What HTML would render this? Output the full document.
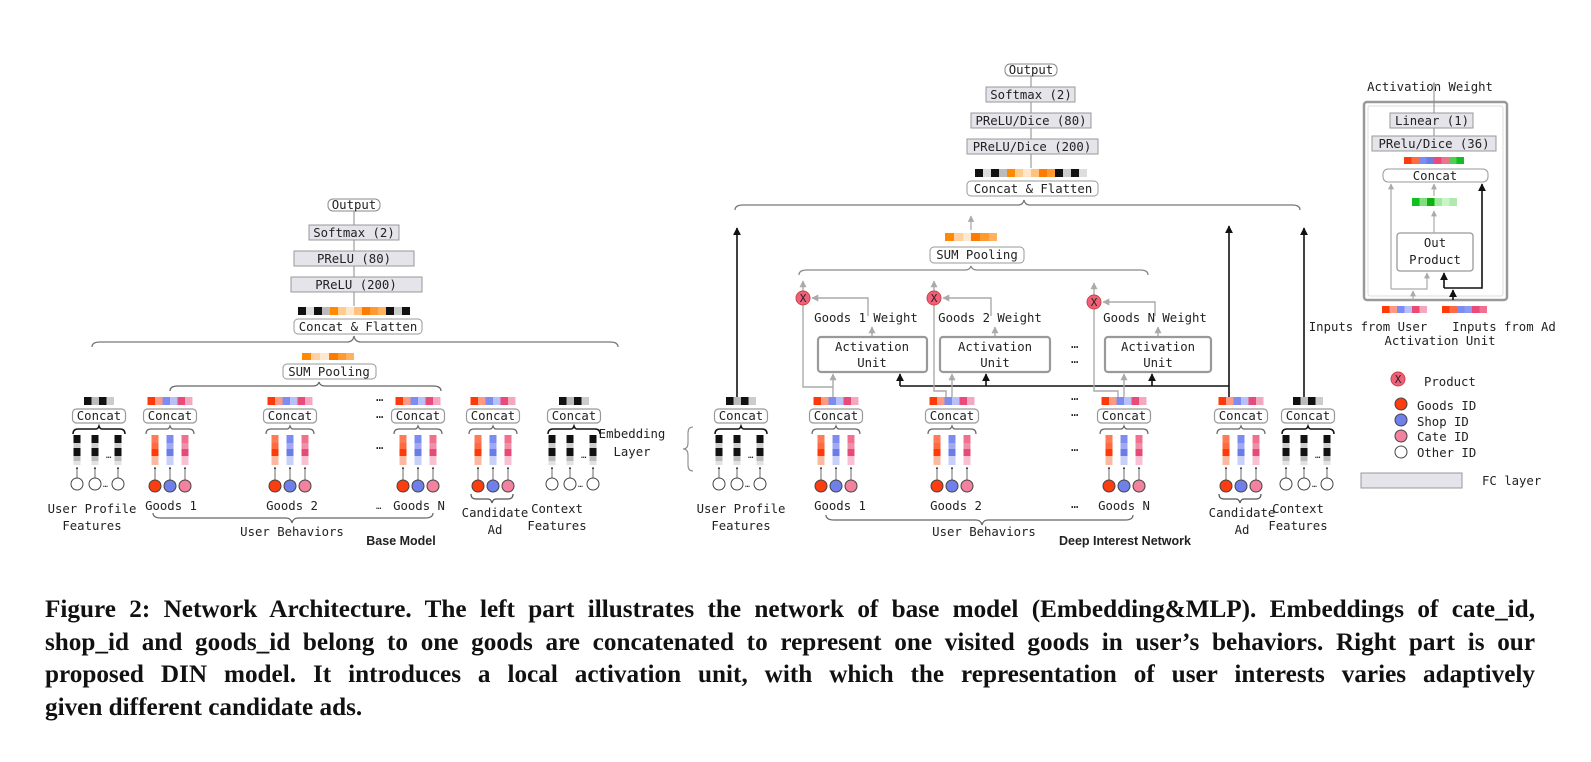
<!DOCTYPE html>
<html><head><meta charset="utf-8"><style>
html,body{margin:0;padding:0;background:#fff;width:1591px;height:762px;overflow:hidden}
svg{position:absolute;left:0;top:0}
svg text{font-family:"DejaVu Sans Mono","Liberation Mono",monospace;font-size:12.3px;fill:#222}
.cap{position:absolute;left:45px;width:1490px;font-family:"Liberation Serif",serif;font-weight:bold;font-size:25.2px;line-height:32.5px;color:#111;white-space:nowrap;text-align:justify;text-align-last:justify}
</style></head><body>
<svg width="1591" height="762" viewBox="0 0 1591 762">
<defs>
<marker id="ag" viewBox="0 0 10 10" refX="9" refY="5" markerWidth="5" markerHeight="5" orient="auto"><path d="M0,0L10,5L0,10z" fill="#aaa"/></marker>
<marker id="ak" viewBox="0 0 10 10" refX="9" refY="5" markerWidth="5" markerHeight="5" orient="auto"><path d="M0,0L10,5L0,10z" fill="#111"/></marker>
<marker id="as" viewBox="0 0 10 10" refX="9" refY="5" markerWidth="3" markerHeight="3" orient="auto"><path d="M0,0L10,5L0,10z" fill="#222"/></marker>
<g id="gstrip">
<rect x="-22.5" y="397" width="7.5" height="8" fill="#ff3a0a"/><rect x="-15" y="397" width="7.5" height="8" fill="#ff9a80"/><rect x="-7.5" y="397" width="7.5" height="8" fill="#7c8cf0"/><rect x="0" y="397" width="7.5" height="8" fill="#b8c0f8"/><rect x="7.5" y="397" width="7.5" height="8" fill="#ea4a78"/><rect x="15" y="397" width="7.5" height="8" fill="#f4a8c0"/>
</g>
<g id="gcol">
<rect x="-3.5" y="435" width="7" height="8" fill="#ff7a55"/><rect x="-3.5" y="443" width="7" height="6" fill="#ff6a40"/><rect x="-3.5" y="449" width="7" height="7" fill="#ff3a0a"/><rect x="-3.5" y="456" width="7" height="9" fill="#ffb8a0"/>
</g>
<g id="bcol">
<rect x="-3.5" y="435" width="7" height="8" fill="#7c8cf0"/><rect x="-3.5" y="443" width="7" height="6" fill="#a0aaf4"/><rect x="-3.5" y="449" width="7" height="7" fill="#6a7ce8"/><rect x="-3.5" y="456" width="7" height="9" fill="#c8cff8"/>
</g>
<g id="pcol">
<rect x="-3.5" y="435" width="7" height="8" fill="#f07090"/><rect x="-3.5" y="443" width="7" height="6" fill="#f090a8"/><rect x="-3.5" y="449" width="7" height="7" fill="#e84a78"/><rect x="-3.5" y="456" width="7" height="9" fill="#f8c0d0"/>
</g>
<g id="kcol">
<rect x="-3.5" y="435" width="7" height="8" fill="#111"/><rect x="-3.5" y="443" width="7" height="5" fill="#ccc"/><rect x="-3.5" y="448" width="7" height="8" fill="#111"/><rect x="-3.5" y="456" width="7" height="5" fill="#bbb"/><rect x="-3.5" y="461" width="7" height="4" fill="#e2e2e2"/>
</g>
<g id="goods">
<use href="#gstrip"/>
<rect x="-26.5" y="409" width="53" height="14" rx="4" fill="#fff" stroke="#999" stroke-width="1.2"/>
<path d="M-24,434 q0,-5 5,-5 h16 q2,0 3,-3 q1,3 3,3 h16 q5,0 5,5" fill="none" stroke="#666" stroke-width="1.2"/>
<use href="#gcol" x="-15"/><use href="#bcol" x="0"/><use href="#pcol" x="15"/>
<g stroke="#444" stroke-width="0.8" marker-end="url(#as)"><line x1="-15" y1="480" x2="-15" y2="467"/><line x1="0" y1="480" x2="0" y2="467"/><line x1="15" y1="480" x2="15" y2="467"/></g>
<circle cx="-15" cy="486" r="6" fill="#fb3d10" stroke="#444"/><circle cx="0" cy="486" r="6" fill="#6f80ea" stroke="#444"/><circle cx="15" cy="486" r="6" fill="#f2829e" stroke="#444"/>
</g>
<g id="prof">
<rect x="-15" y="397" width="7.5" height="8" fill="#111"/><rect x="-7.5" y="397" width="7.5" height="8" fill="#bbb"/><rect x="0" y="397" width="7.5" height="8" fill="#111"/><rect x="7.5" y="397" width="7.5" height="8" fill="#ccc"/>
<rect x="-26.5" y="409" width="53" height="14" rx="4" fill="#fff" stroke="#999" stroke-width="1.2"/>
<path d="M-26,434 q0,-5 5,-5 h18 q2,0 3,-3 q1,3 3,3 h18 q5,0 5,5" fill="none" stroke="#111" stroke-width="1.5"/>
<use href="#kcol" x="-22"/><use href="#kcol" x="-4"/><use href="#kcol" x="19"/>
<text x="7" y="458" style="font-size:9px">…</text>
<g stroke="#444" stroke-width="0.8" marker-end="url(#as)"><line x1="-22" y1="478" x2="-22" y2="467"/><line x1="-4" y1="478" x2="-4" y2="467"/><line x1="19" y1="478" x2="19" y2="467"/></g>
<circle cx="-22" cy="484" r="6" fill="#fff" stroke="#444"/><circle cx="-4" cy="484" r="6" fill="#fff" stroke="#444"/><circle cx="19" cy="484" r="6" fill="#fff" stroke="#444"/>
<text x="4" y="487" style="font-size:8px">…</text>
</g>
<g id="xc"><circle r="7" fill="#f0607a" stroke="#c44"/></g>
</defs>

<!-- ============ BASE MODEL ============ -->
<line x1="354" y1="210" x2="354" y2="306" stroke="#888" stroke-width="1"/>
<rect x="328" y="199" width="52" height="12" rx="5" fill="#fff" stroke="#888"/><text x="354" y="209" text-anchor="middle">Output</text>
<rect x="309" y="225" width="90" height="15" fill="#e4e4ea" stroke="#999"/><text x="354" y="237" text-anchor="middle">Softmax (2)</text>
<rect x="294" y="251" width="120" height="15" fill="#e4e4ea" stroke="#999"/><text x="354" y="263" text-anchor="middle">PReLU (80)</text>
<rect x="291" y="277" width="131" height="15" fill="#e4e4ea" stroke="#999"/><text x="356" y="289" text-anchor="middle">PReLU (200)</text>
<g>
<rect x="298" y="307" width="8" height="8" fill="#111"/><rect x="306" y="307" width="8" height="8" fill="#ddd"/><rect x="314" y="307" width="8" height="8" fill="#111"/><rect x="322" y="307" width="8" height="8" fill="#bbb"/><rect x="330" y="307" width="8" height="8" fill="#ff8a00"/><rect x="338" y="307" width="8" height="8" fill="#ffcc90"/><rect x="346" y="307" width="8" height="8" fill="#ffe6c8"/><rect x="354" y="307" width="8" height="8" fill="#ffc080"/><rect x="362" y="307" width="8" height="8" fill="#ff7a00"/><rect x="370" y="307" width="8" height="8" fill="#ff9a30"/><rect x="378" y="307" width="8" height="8" fill="#ffb060"/><rect x="386" y="307" width="8" height="8" fill="#111"/><rect x="394" y="307" width="8" height="8" fill="#ccc"/><rect x="402" y="307" width="8" height="8" fill="#111"/>
</g>
<rect x="294" y="319" width="128" height="15" rx="4" fill="#fff" stroke="#999"/><text x="358" y="331" text-anchor="middle">Concat &amp; Flatten</text>
<path d="M92,347 q0,-5 8,-5 H347 q6,0 7,-6 q1,6 7,6 H610 q8,0 8,5" fill="none" stroke="#777" stroke-width="1.3"/>
<g><rect x="302" y="353" width="9" height="7" fill="#ff8a00"/><rect x="311" y="353" width="9" height="7" fill="#ffd0a0"/><rect x="320" y="353" width="9" height="7" fill="#ffe8d0"/><rect x="329" y="353" width="9" height="7" fill="#ff7a00"/><rect x="338" y="353" width="8" height="7" fill="#ff9a30"/><rect x="346" y="353" width="8" height="7" fill="#ffb060"/></g>
<rect x="283" y="364" width="93" height="15" rx="4" fill="#fff" stroke="#999"/><text x="329" y="376" text-anchor="middle">SUM Pooling</text>
<path d="M170,391 q0,-5 8,-5 H313 q5,0 6,-4 q1,4 6,4 H433 q8,0 8,5" fill="none" stroke="#666" stroke-width="1.3"/>

<use href="#prof" x="99"/><text x="99" y="420" text-anchor="middle">Concat</text>
<use href="#goods" x="170"/><text x="170" y="420" text-anchor="middle">Concat</text>
<use href="#goods" x="290"/><text x="290" y="420" text-anchor="middle">Concat</text>
<use href="#goods" x="418"/><text x="418" y="420" text-anchor="middle">Concat</text>
<use href="#goods" x="493"/><text x="493" y="420" text-anchor="middle">Concat</text>
<path d="M471,494 q0,5 5,5 h12 q3,0 4,4 q1,-4 4,-4 h12 q5,0 5,-5" fill="none" stroke="#555" stroke-width="1.2"/>
<use href="#prof" x="574"/><text x="574" y="420" text-anchor="middle">Concat</text>
<g style="font-size:9px"><text x="376" y="401">…</text><text x="376" y="418">…</text><text x="376" y="449">…</text></g>

<text x="92" y="513" text-anchor="middle">User Profile</text><text x="92" y="530" text-anchor="middle">Features</text>
<text x="171" y="510" text-anchor="middle">Goods 1</text>
<text x="292" y="510" text-anchor="middle">Goods 2</text>
<text x="376" y="509" style="font-size:9px">…</text><text x="419" y="510" text-anchor="middle">Goods N</text>
<text x="495" y="517" text-anchor="middle">Candidate</text><text x="495" y="534" text-anchor="middle">Ad</text>
<text x="557" y="513" text-anchor="middle">Context</text><text x="557" y="530" text-anchor="middle">Features</text>
<path d="M153,513 q0,5 8,5 H286 q5,0 6,5 q1,-5 6,-5 H425 q8,0 8,-5" fill="none" stroke="#666" stroke-width="1.2"/>
<text x="292" y="536" text-anchor="middle">User Behaviors</text>
<text x="401" y="545" text-anchor="middle" style="font-family:'Liberation Sans',sans-serif;font-weight:bold;font-size:12.5px">Base Model</text>

<!-- ============ DIN ============ -->
<line x1="1031" y1="72" x2="1031" y2="168" stroke="#888"/>
<rect x="1005" y="64" width="52" height="12" rx="5" fill="#fff" stroke="#888"/><text x="1031" y="74" text-anchor="middle">Output</text>
<rect x="986" y="87" width="89" height="15" fill="#e4e4ea" stroke="#999"/><text x="1031" y="99" text-anchor="middle">Softmax (2)</text>
<rect x="971" y="113" width="120" height="15" fill="#e4e4ea" stroke="#999"/><text x="1031" y="125" text-anchor="middle">PReLU/Dice (80)</text>
<rect x="967" y="139" width="131" height="15" fill="#e4e4ea" stroke="#999"/><text x="1032" y="151" text-anchor="middle">PReLU/Dice (200)</text>
<g>
<rect x="975" y="169" width="8" height="8" fill="#111"/><rect x="983" y="169" width="8" height="8" fill="#ddd"/><rect x="991" y="169" width="8" height="8" fill="#111"/><rect x="999" y="169" width="8" height="8" fill="#bbb"/><rect x="1007" y="169" width="8" height="8" fill="#ff8a00"/><rect x="1015" y="169" width="8" height="8" fill="#ffcc90"/><rect x="1023" y="169" width="8" height="8" fill="#ffe6c8"/><rect x="1031" y="169" width="8" height="8" fill="#ffc080"/><rect x="1039" y="169" width="8" height="8" fill="#ff7a00"/><rect x="1047" y="169" width="8" height="8" fill="#ff9a30"/><rect x="1055" y="169" width="8" height="8" fill="#111"/><rect x="1063" y="169" width="8" height="8" fill="#ccc"/><rect x="1071" y="169" width="8" height="8" fill="#111"/><rect x="1079" y="169" width="8" height="8" fill="#ddd"/>
</g>
<rect x="967" y="181" width="131" height="15" rx="4" fill="#fff" stroke="#999"/><text x="1033" y="193" text-anchor="middle">Concat &amp; Flatten</text>
<path d="M735,210 q0,-5 8,-5 H1018 q5,0 6,-5 q1,5 6,5 H1292 q8,0 8,5" fill="none" stroke="#777" stroke-width="1.3"/>

<line x1="971" y1="230" x2="971" y2="216" stroke="#aaa" stroke-width="1.3" marker-end="url(#ag)"/>
<g><rect x="945" y="233" width="9" height="8" fill="#ff8a00"/><rect x="954" y="233" width="9" height="8" fill="#ffd0a0"/><rect x="963" y="233" width="8" height="8" fill="#ffe8d0"/><rect x="971" y="233" width="9" height="8" fill="#ff7a00"/><rect x="980" y="233" width="9" height="8" fill="#ff9a30"/><rect x="989" y="233" width="8" height="8" fill="#ffb060"/></g>
<rect x="930" y="247" width="94" height="16" rx="4" fill="#fff" stroke="#999"/><text x="977" y="259" text-anchor="middle">SUM Pooling</text>
<path d="M799,275 q0,-5 8,-5 H965 q5,0 6,-4 q1,4 6,4 H1140 q8,0 8,5" fill="none" stroke="#888" stroke-width="1.3"/>

<g stroke="#111" stroke-width="1.6" fill="none">
<line x1="737" y1="397" x2="737" y2="228" marker-end="url(#ak)"/>
<line x1="1229" y1="397" x2="1229" y2="226" marker-end="url(#ak)"/>
<line x1="1304" y1="397" x2="1304" y2="228" marker-end="url(#ak)"/>
<line x1="900" y1="386" x2="1229" y2="386"/>
<line x1="900" y1="386" x2="900" y2="374" marker-end="url(#ak)"/>
<line x1="986" y1="386" x2="986" y2="374" marker-end="url(#ak)"/>
<line x1="1152" y1="386" x2="1152" y2="374" marker-end="url(#ak)"/>
</g>
<g stroke="#aaa" stroke-width="1.4" fill="none">
<line x1="833" y1="397" x2="833" y2="374" marker-end="url(#ag)"/>
<polyline points="833,387 803,387 803,305"/>
<line x1="803" y1="291" x2="803" y2="281" marker-end="url(#ag)"/>
<polyline points="868,316 868,298 812,298" marker-end="url(#ag)"/>
<line x1="872" y1="337" x2="872" y2="327" marker-end="url(#ag)"/>
<line x1="952" y1="397" x2="952" y2="374" marker-end="url(#ag)"/>
<polyline points="946,397 946,391 934,391 934,305"/>
<line x1="934" y1="291" x2="934" y2="281" marker-end="url(#ag)"/>
<polyline points="991,316 991,298 943,298" marker-end="url(#ag)"/>
<line x1="995" y1="337" x2="995" y2="327" marker-end="url(#ag)"/>
<line x1="1124" y1="397" x2="1124" y2="374" marker-end="url(#ag)"/>
<polyline points="1118,397 1118,391 1094,391 1094,309"/>
<line x1="1094" y1="295" x2="1094" y2="283" marker-end="url(#ag)"/>
<polyline points="1155,316 1155,302 1103,302" marker-end="url(#ag)"/>
<line x1="1158" y1="337" x2="1158" y2="327" marker-end="url(#ag)"/>
</g>
<use href="#xc" x="803" y="298"/><text x="803" y="302" text-anchor="middle" style="font-size:11px">X</text>
<use href="#xc" x="934" y="298"/><text x="934" y="302" text-anchor="middle" style="font-size:11px">X</text>
<use href="#xc" x="1094" y="302"/><text x="1094" y="306" text-anchor="middle" style="font-size:11px">X</text>
<text x="866" y="322" text-anchor="middle">Goods 1 Weight</text>
<text x="990" y="322" text-anchor="middle">Goods 2 Weight</text>
<text x="1155" y="322" text-anchor="middle">Goods N Weight</text>
<g fill="#fff" stroke="#999" stroke-width="2.2">
<rect x="818" y="337" width="109" height="35" rx="3"/><rect x="940" y="337" width="110" height="35" rx="3"/><rect x="1105" y="337" width="106" height="35" rx="3"/>
</g>
<text x="872" y="351" text-anchor="middle">Activation</text><text x="872" y="367" text-anchor="middle">Unit</text>
<text x="995" y="351" text-anchor="middle">Activation</text><text x="995" y="367" text-anchor="middle">Unit</text>
<text x="1158" y="351" text-anchor="middle">Activation</text><text x="1158" y="367" text-anchor="middle">Unit</text>
<g style="font-size:9px"><text x="1071" y="348">…</text><text x="1071" y="363">…</text><text x="1071" y="400">…</text><text x="1071" y="416">…</text><text x="1071" y="451">…</text><text x="1071" y="508">…</text></g>

<use href="#prof" x="741"/><text x="741" y="420" text-anchor="middle">Concat</text>
<use href="#goods" x="836"/><text x="836" y="420" text-anchor="middle">Concat</text>
<use href="#goods" x="952"/><text x="952" y="420" text-anchor="middle">Concat</text>
<use href="#goods" x="1124"/><text x="1124" y="420" text-anchor="middle">Concat</text>
<use href="#goods" x="1241"/><text x="1241" y="420" text-anchor="middle">Concat</text>
<path d="M1219,494 q0,5 5,5 h12 q3,0 4,4 q1,-4 4,-4 h12 q5,0 5,-5" fill="none" stroke="#555" stroke-width="1.2"/>
<use href="#prof" x="1308"/><text x="1308" y="420" text-anchor="middle">Concat</text>

<path d="M693,427 q-5,0 -5,6 v10 q0,6 -5,6 q5,0 5,6 v10 q0,6 5,6" fill="none" stroke="#888" stroke-width="1.1"/>
<text x="632" y="438" text-anchor="middle">Embedding</text><text x="632" y="456" text-anchor="middle">Layer</text>

<text x="741" y="513" text-anchor="middle">User Profile</text><text x="741" y="530" text-anchor="middle">Features</text>
<text x="840" y="510" text-anchor="middle">Goods 1</text>
<text x="956" y="510" text-anchor="middle">Goods 2</text>
<text x="1124" y="510" text-anchor="middle">Goods N</text>
<text x="1242" y="517" text-anchor="middle">Candidate</text><text x="1242" y="534" text-anchor="middle">Ad</text>
<text x="1298" y="513" text-anchor="middle">Context</text><text x="1298" y="530" text-anchor="middle">Features</text>
<path d="M826,515 q0,5 8,5 H976 q5,0 6,5 q1,-5 6,-5 H1125 q8,0 8,-5" fill="none" stroke="#666" stroke-width="1.2"/>
<text x="984" y="536" text-anchor="middle">User Behaviors</text>
<text x="1125" y="545" text-anchor="middle" style="font-family:'Liberation Sans',sans-serif;font-weight:bold;font-size:12.5px">Deep Interest Network</text>

<!-- ============ ACTIVATION UNIT PANEL ============ -->
<text x="1430" y="91" text-anchor="middle">Activation Weight</text>
<rect x="1364" y="102" width="143" height="198" rx="3" fill="#fff" stroke="#999" stroke-width="2.5"/>
<rect x="1368" y="106" width="135" height="190" rx="2" fill="none" stroke="#ddd" stroke-width="1"/>
<line x1="1434" y1="138" x2="1434" y2="82" stroke="#888" marker-end="url(#ag)"/>
<rect x="1390" y="113" width="83" height="15" fill="#e4e4ea" stroke="#999"/><text x="1432" y="125" text-anchor="middle">Linear (1)</text>
<rect x="1372" y="136" width="124" height="15" fill="#e4e4ea" stroke="#999"/><text x="1434" y="148" text-anchor="middle">PRelu/Dice (36)</text>
<g><rect x="1404" y="157" width="7.5" height="7" fill="#ff3a0a"/><rect x="1411.5" y="157" width="7.5" height="7" fill="#ff6a40"/><rect x="1419" y="157" width="7.5" height="7" fill="#7c8cf0"/><rect x="1426.5" y="157" width="7.5" height="7" fill="#6a7ce8"/><rect x="1434" y="157" width="7.5" height="7" fill="#ea4a78"/><rect x="1441.5" y="157" width="7.5" height="7" fill="#f07090"/><rect x="1449" y="157" width="7.5" height="7" fill="#50d050"/><rect x="1456.5" y="157" width="7.5" height="7" fill="#10c020"/></g>
<rect x="1383" y="169" width="105" height="13" rx="5" fill="#fff" stroke="#999"/><text x="1435" y="180" text-anchor="middle">Concat</text>
<g><rect x="1412" y="198" width="7.5" height="8" fill="#10c020"/><rect x="1419.5" y="198" width="7.5" height="8" fill="#80e080"/><rect x="1427" y="198" width="7.5" height="8" fill="#10b010"/><rect x="1434.5" y="198" width="7.5" height="8" fill="#a0eaa0"/><rect x="1442" y="198" width="7.5" height="8" fill="#c8f4c8"/><rect x="1449.5" y="198" width="7.5" height="8" fill="#b0eab0"/></g>
<rect x="1397" y="233" width="76" height="38" rx="3" fill="#fff" stroke="#999" stroke-width="1.3"/>
<text x="1435" y="247" text-anchor="middle">Out</text><text x="1435" y="264" text-anchor="middle">Product</text>
<g stroke="#aaa" stroke-width="1.2" fill="none">
<line x1="1434" y1="233" x2="1434" y2="211" marker-end="url(#ag)"/>
<line x1="1434" y1="196" x2="1434" y2="184" marker-end="url(#ag)"/>
<polyline points="1391,289 1391,184" marker-end="url(#ag)"/>
<polyline points="1391,289 1427,289 1427,273" marker-end="url(#ag)"/>
<line x1="1413" y1="300" x2="1413" y2="291" marker-end="url(#ag)"/>
</g>
<g stroke="#111" stroke-width="1.6" fill="none">
<polyline points="1444,288 1482,288 1482,184" marker-end="url(#ak)"/>
<line x1="1444" y1="288" x2="1444" y2="273" marker-end="url(#ak)"/>
<line x1="1453" y1="300" x2="1453" y2="290" marker-end="url(#ak)"/>
</g>
<g><rect x="1382" y="306" width="7.5" height="7" fill="#ff3a0a"/><rect x="1389.5" y="306" width="7.5" height="7" fill="#ff9a80"/><rect x="1397" y="306" width="7.5" height="7" fill="#7c8cf0"/><rect x="1404.5" y="306" width="7.5" height="7" fill="#b8c0f8"/><rect x="1412" y="306" width="7.5" height="7" fill="#ea4a78"/><rect x="1419.5" y="306" width="7.5" height="7" fill="#f4a8c0"/></g>
<g><rect x="1442" y="306" width="7.5" height="7" fill="#ff3a0a"/><rect x="1449.5" y="306" width="7.5" height="7" fill="#ff6a40"/><rect x="1457" y="306" width="7.5" height="7" fill="#7c8cf0"/><rect x="1464.5" y="306" width="7.5" height="7" fill="#8c9af0"/><rect x="1472" y="306" width="7.5" height="7" fill="#ea4a78"/><rect x="1479.5" y="306" width="7.5" height="7" fill="#f07090"/></g>
<text x="1368" y="331" text-anchor="middle">Inputs from User</text>
<text x="1504" y="331" text-anchor="middle">Inputs from Ad</text>
<text x="1440" y="345" text-anchor="middle">Activation Unit</text>

<use href="#xc" x="1398" y="379"/><text x="1398" y="383" text-anchor="middle" style="font-size:11px">X</text>
<text x="1424" y="386">Product</text>
<circle cx="1401" cy="404" r="6" fill="#fb3d10" stroke="#444"/><text x="1417" y="410">Goods ID</text>
<circle cx="1401" cy="420" r="6" fill="#6f80ea" stroke="#444"/><text x="1417" y="426">Shop ID</text>
<circle cx="1401" cy="436" r="6" fill="#f2829e" stroke="#444"/><text x="1417" y="441">Cate ID</text>
<circle cx="1401" cy="452" r="6" fill="#fff" stroke="#444"/><text x="1417" y="457">Other ID</text>
<rect x="1361" y="473" width="101" height="15" fill="#e4e4ea" stroke="#999"/><text x="1482" y="485">FC layer</text>
</svg>

<div class="cap" style="top:594px">Figure 2: Network Architecture. The left part illustrates the network of base model (Embedding&amp;MLP). Embeddings of cate_id,</div>
<div class="cap" style="top:626.5px">shop_id and goods_id belong to one goods are concatenated to represent one visited goods in user’s behaviors. Right part is our</div>
<div class="cap" style="top:659px">proposed DIN model. It introduces a local activation unit, with which the representation of user interests varies adaptively</div>
<div class="cap" style="top:691.5px;text-align-last:left">given different candidate ads.</div>
</body></html>
